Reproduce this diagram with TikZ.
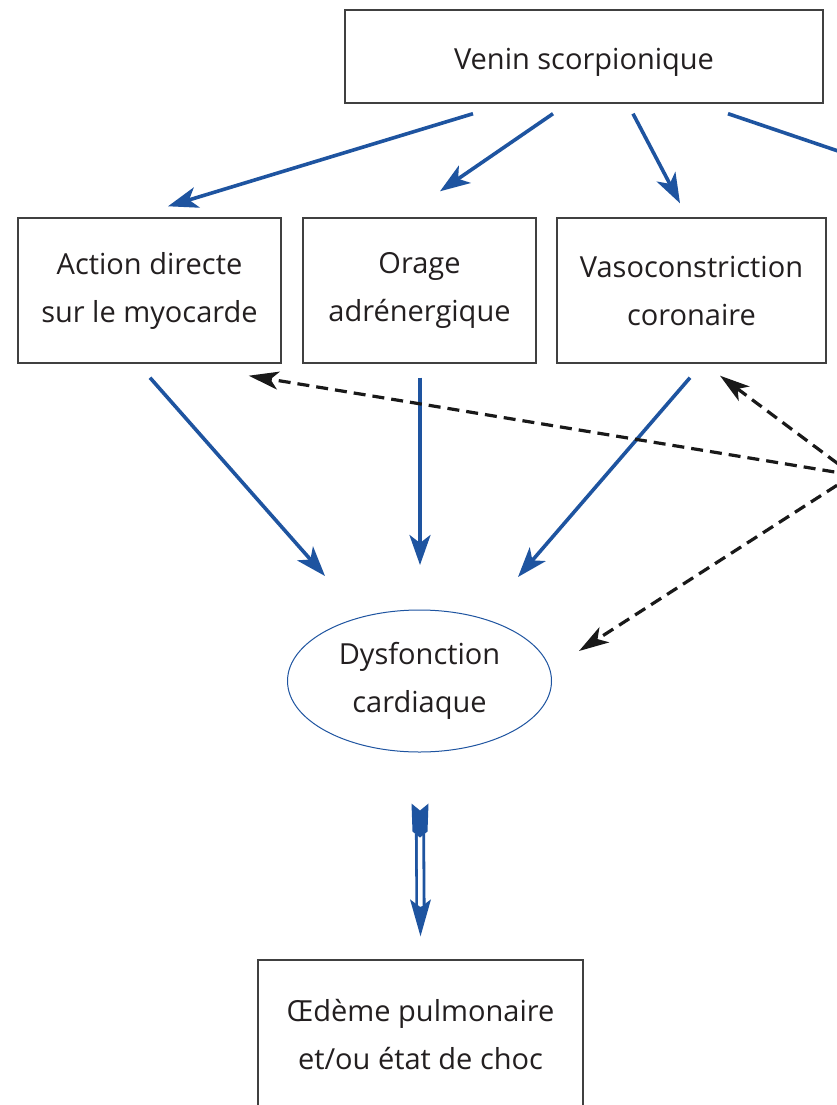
\documentclass[tikz,border=0pt]{standalone}
\usepackage{fontspec}
\setmainfont{Open Sans}
\usetikzlibrary{arrows.meta,shapes.geometric}
\definecolor{venblue}{RGB}{30,84,160}
\definecolor{txtgray}{RGB}{35,31,32}

\tikzset{
  boxnode/.style={draw=black!75, line width=1.4pt, align=center, text=txtgray,
    inner sep=0pt, font=\fontsize{29}{48}\selectfont,
    execute at begin node={\rule{0pt}{32pt}}},
  blue arrow/.style={venblue, line width=3.6pt,
    -{Stealth[length=30pt,width=21pt,inset=8pt]}},
  dash arrow/.style={black!90, line width=3.2pt, dash pattern=on 12pt off 7pt,
    -{Stealth[length=30pt,width=18pt,inset=8pt]}},
}

\begin{document}
\begin{tikzpicture}[x=1pt,y=-1pt]
\useasboundingbox (0,0) rectangle (836,1105);
\fill[white] (0,0) rectangle (836,1105);
% boxes
\node[boxnode,minimum width=478pt,minimum height=93pt] (venin) at (584,56.5) {Venin scorpionique};
\node[boxnode,minimum width=263pt,minimum height=145pt] (action) at (149.5,290.5) {Action directe\\sur le myocarde};
\node[boxnode,minimum width=233pt,minimum height=145pt] (orage) at (419.5,290.5) {Orage\\adrénergique};
\node[boxnode,minimum width=269pt,minimum height=145pt] (vaso) at (691.5,290.5) {Vasoconstriction\\coronaire};
\node[boxnode,draw=venblue,line width=1pt,ellipse,minimum width=264pt,minimum height=142pt] (ell) at (419.5,681) {Dysfonction\\cardiaque};
\node[boxnode,minimum width=325pt,minimum height=150pt] (choc) at (420.5,1035) {Œdème pulmonaire\\et/ou état de choc};
\coordinate (offr) at (900,172);
\coordinate (src) at (853,475);

% venin -> effets
\draw[blue arrow] ([shift={(-111,10)}]venin.south) -- ([shift={(18.5,-11)}]action.north);
\draw[blue arrow] ([shift={(-31,10)}]venin.south) -- ([shift={(20.5,-26)}]orage.north);
\draw[blue arrow] ([shift={(49,10)}]venin.south) -- ([shift={(-11.5,-14)}]vaso.north);
\draw[venblue,line width=3.6pt] ([shift={(144,10)}]venin.south) -- (offr);

% effets -> dysfonction
\draw[blue arrow] ([shift={(0.5,14)}]action.south) -- ([shift={(-94.5,-105)}]ell.center);
\draw[blue arrow] ([shift={(0.5,14)}]orage.south) -- ([shift={(0.5,-116)}]ell.center);
\draw[blue arrow] ([shift={(-1.5,14)}]vaso.south) -- ([shift={(98.5,-104)}]ell.center);

% pointilles
\draw[dash arrow] (src) -- ([shift={(-33,12)}]action.south east);
\draw[dash arrow] (src) -- ([shift={(28.5,12)}]vaso.south);
\draw[dash arrow] (src) -- ([shift={(27,-30)}]ell.east);

% double fleche
\path ([shift={(0.5,51)}]ell.south) coordinate (tailtop)
      ([shift={(0,-23)}]choc.north) coordinate (headtip);
\draw[venblue,double=white,double distance=4.5pt,line width=2.8pt] ([shift={(0,30)}]tailtop) -- ([shift={(0,-30)}]headtip);
\fill[venblue] (tailtop) ++(-8.5,0) -- ++(8.5,7) -- ++(8.5,-7) -- ++(-1,28) -- ++(-7.5,6) -- ++(-7.5,-6) -- cycle;
\fill[venblue] (headtip) -- ++(-10.5,-37) -- ++(10.5,8) -- ++(10.5,-8) -- cycle;
\end{tikzpicture}
\end{document}
